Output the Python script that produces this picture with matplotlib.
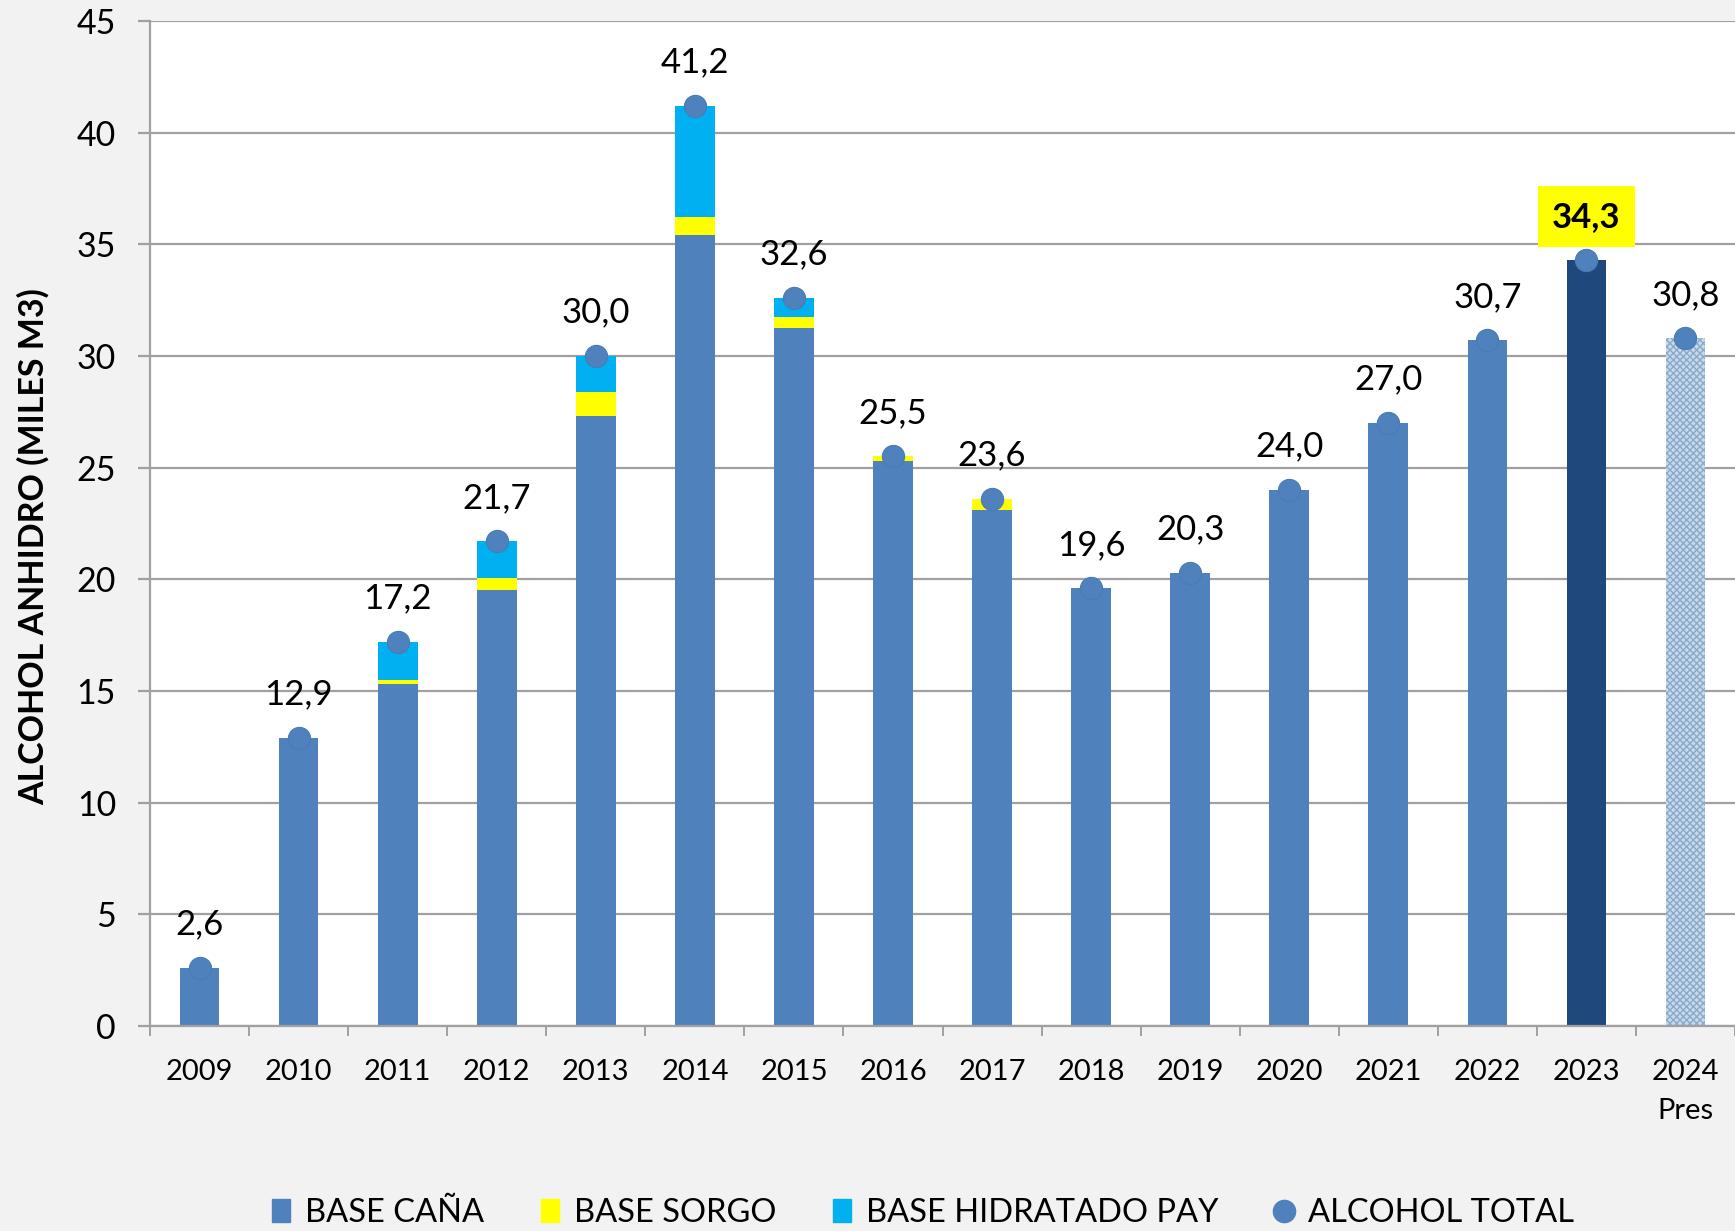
import numpy as np
import matplotlib
matplotlib.use("Agg")
import matplotlib.pyplot as plt
from matplotlib.lines import Line2D
from matplotlib.patches import Patch

plt.rcParams['font.family'] = ['Lato', 'DejaVu Sans']
plt.rcParams['hatch.linewidth'] = 1.0

years = ['2009', '2010', '2011', '2012', '2013', '2014', '2015', '2016',
         '2017', '2018', '2019', '2020', '2021', '2022', '2023', '2024\nPres']
base_cana = [2.6, 12.9, 15.3, 19.5, 27.3, 35.4, 31.25, 25.3,
             23.1, 19.6, 20.3, 24.0, 27.0, 30.7, 34.3, 30.8]
base_sorgo = [0, 0, 0.2, 0.55, 1.1, 0.8, 0.5, 0.2,
              0.5, 0, 0, 0, 0, 0, 0, 0]
base_pay = [0, 0, 1.7, 1.65, 1.6, 5.0, 0.85, 0,
            0, 0, 0, 0, 0, 0, 0, 0]
alcohol_total = [2.6, 12.9, 17.2, 21.7, 30.0, 41.2, 32.6, 25.5,
                 23.6, 19.6, 20.3, 24.0, 27.0, 30.7, 34.3, 30.8]

c_cana = '#4f81bd'
c_sorgo = '#ffff00'
c_pay = '#00b0f0'
c_grid = '#a0a0a0'

fig = plt.figure(figsize=(17.35, 12.31), dpi=100, facecolor='#f2f2f2')
ax = fig.add_axes([0.0865, 0.1665, 0.9135, 0.8165])
ax.set_facecolor('white')

x = np.arange(len(years))
w = 0.4
cana = np.array(base_cana)
sorgo = np.array(base_sorgo)
pay = np.array(base_pay)

bars = ax.bar(x, cana, w, color=c_cana, zorder=2)
ax.bar(x, sorgo, w, bottom=cana, color=c_sorgo, zorder=2)
ax.bar(x, pay, w, bottom=cana + sorgo, color=c_pay, zorder=2)

# 2023 dark, 2024 (presupuesto) patterned
bars[14].set_facecolor('#1f497d')
bars[15].set_facecolor('#c8d9ea')
bars[15].set_edgecolor('#8aaacb')
bars[15].set_hatch('xxxxx')
bars[15].set_linewidth(0)

ax.plot(x, alcohol_total, 'o', color=c_cana, markersize=16, zorder=3,
        markeredgecolor='#4a7bb5', markeredgewidth=0.8)

for i, v in enumerate(alcohol_total):
    lbl = f'{v:.1f}'.replace('.', ',')
    if i == 14:
        ax.annotate(lbl, (x[i], v), xytext=(0, 24), textcoords='offset points',
                    ha='center', va='baseline', fontsize=25, fontweight='bold',
                    bbox=dict(boxstyle='square,pad=0.42', fc='#ffff00', ec='none'),
                    zorder=4)
    else:
        ax.annotate(lbl, (x[i], v), xytext=(0, 24), textcoords='offset points',
                    ha='center', va='baseline', fontsize=25, zorder=4)

ax.set_ylim(0, 45)
ax.set_xlim(-0.5, 15.43)
ax.set_yticks(np.arange(0, 46, 5))
ax.yaxis.grid(True, color=c_grid, linewidth=1.6, zorder=0)
ax.set_axisbelow(True)

ax.set_xticks(x)
ax.set_xticklabels(years)
ax.set_xticks(np.arange(-0.5, 16, 1), minor=True)
ax.tick_params(axis='x', which='major', length=0, labelsize=21, pad=24)
ax.tick_params(axis='x', which='minor', length=7.5, width=1.4, color=c_grid)
ax.tick_params(axis='y', length=8.5, width=1.6, color=c_grid, labelsize=24.5, pad=16)
for tl in ax.get_xticklabels():
    tl.set_linespacing(1.6)
    tl.set_verticalalignment('top')

for s in ['top', 'right']:
    ax.spines[s].set_visible(False)
for s in ['left', 'bottom']:
    ax.spines[s].set_color(c_grid)
    ax.spines[s].set_linewidth(1.6)

fig.text(0.019, 0.556, 'ALCOHOL ANHIDRO (MILES M3)', rotation=90, ha='center',
         va='center', fontsize=24.5, fontweight='bold')

handles = [Patch(color=c_cana), Patch(color=c_sorgo), Patch(color=c_pay),
           Line2D([], [], marker='o', linestyle='none', color=c_cana, markersize=16)]
names = ['BASE CAÑA', 'BASE SORGO', 'BASE HIDRATADO PAY', 'ALCOHOL TOTAL']
fig.legend(handles, names, loc='center', bbox_to_anchor=(0.532, 0.0146), ncol=4,
           frameon=False, fontsize=23.5, handlelength=0.55, handleheight=0.7,
           handletextpad=0.45, columnspacing=1.75, borderpad=0)

fig.savefig('out.png', dpi=100, facecolor=fig.get_facecolor())
